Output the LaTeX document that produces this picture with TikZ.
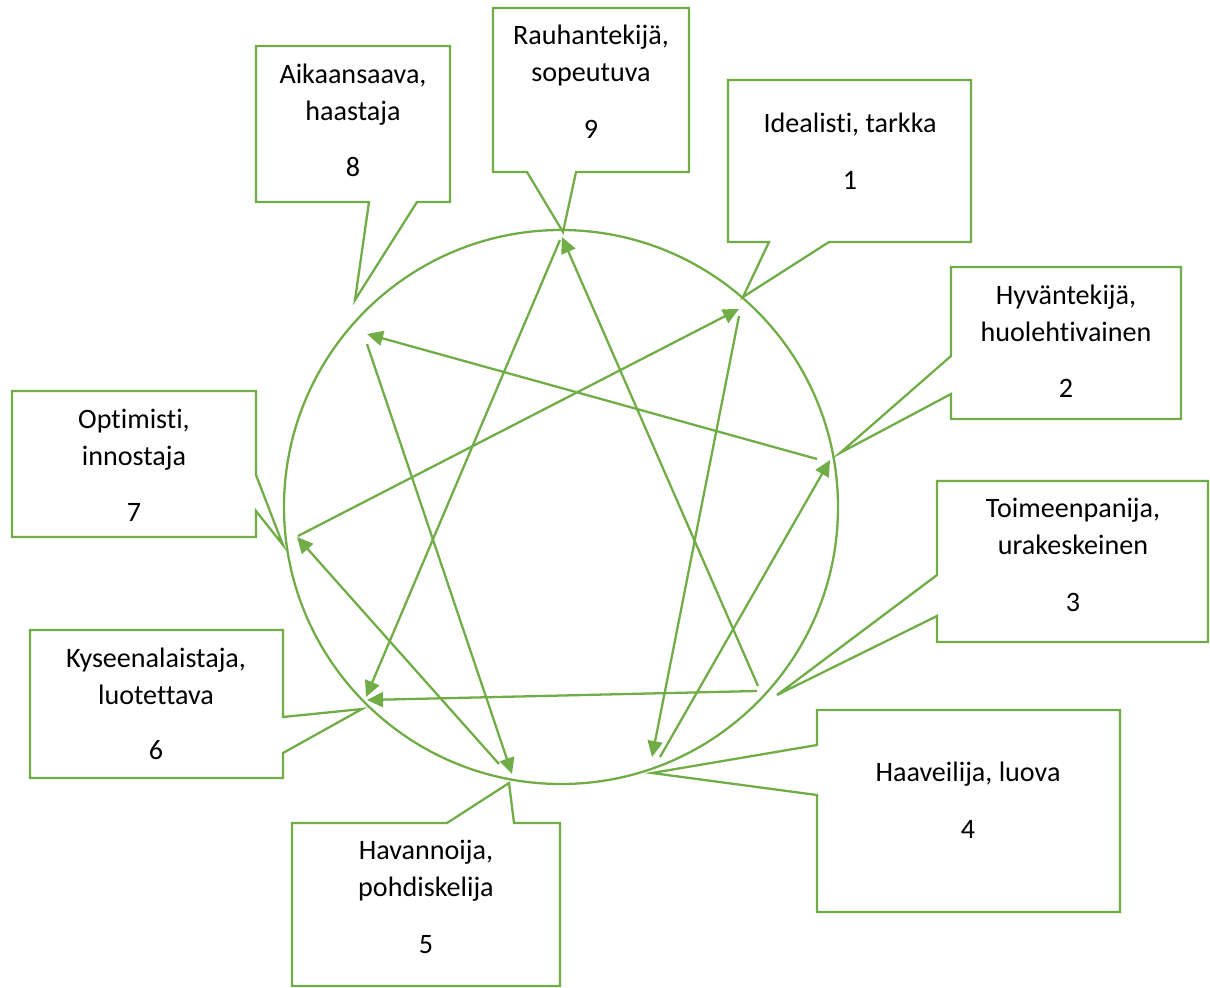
\documentclass[tikz,border=0pt]{standalone}
\usepackage{fontspec}
\setmainfont{Carlito}[Ligatures=NoCommon]
\usetikzlibrary{arrows.meta}
\definecolor{leafgreen}{RGB}{112,173,71}

\begin{document}
\begin{tikzpicture}[x=0.02cm, y=-0.02cm, line width=1.3pt,
	box/.style={draw=leafgreen, line join=miter},
	lbl/.style={font=\fontsize{16}{20.5}\selectfont, align=center, anchor=base, inner sep=0pt},
	link/.style={draw=leafgreen, -{Triangle[length=0.32cm, width=0.3cm]}}]
	\useasboundingbox (0,0) rectangle (1210,987);

	\draw[leafgreen] (561,507) circle[radius=277];

	% tips of the callouts
	\coordinate (c1) at (743,297);
	\coordinate (c2) at (840,453);
	\coordinate (c3) at (777,695);
	\coordinate (c4) at (652,773);
	\coordinate (c5) at (509,783);
	\coordinate (c6) at (362,709);
	\coordinate (c7) at (283,545);
	\coordinate (c8) at (355,300);
	\coordinate (c9) at (563,232);

	\draw[box] (493,8) -- (689,8) -- (689,172) -- (576,172) -- (c9) -- (527,172) -- (493,172) -- cycle;
	\draw[box] (256,46) -- (450,46) -- (450,202) -- (417,202) -- (c8) -- (369,202) -- (256,202) -- cycle;
	\draw[box] (728,80) -- (971,80) -- (971,242) -- (829,242) -- (c1) -- (769,242) -- (728,242) -- cycle;
	\draw[box] (951,267) -- (1181,267) -- (1181,419) -- (951,419) -- (951,394) -- (c2) -- (951,356) -- cycle;
	\draw[box] (937,481) -- (1208,481) -- (1208,642) -- (937,642) -- (937,616) -- (c3) -- (937,575) -- cycle;
	\draw[box] (817,710) -- (1120,710) -- (1120,912) -- (817,912) -- (817,795) -- (c4) -- (817,745) -- cycle;
	\draw[box] (292,823) -- (447,823) -- (c5) -- (514,823) -- (560,823) -- (560,986) -- (292,986) -- cycle;
	\draw[box] (30,630) -- (283,630) -- (283,717) -- (c6) -- (283,753) -- (283,778) -- (30,778) -- cycle;
	\draw[box] (12,391) -- (256,391) -- (256,475) -- (c7) -- (256,511) -- (256,537) -- (12,537) -- cycle;

	% base anchor sits on the last line
	\node[lbl] (t9) at (591,81) {Rauhantekijä,\\sopeutuva};
	\node[lbl] (n9) at (591,138) {9};
	\node[lbl] (t8) at (353,120) {Aikaansaava,\\haastaja};
	\node[lbl] (n8) at (353,176) {8};
	\node[lbl] (t1) at (850,132) {Idealisti, tarkka};
	\node[lbl] (n1) at (850,189) {1};
	\node[lbl] (t2) at (1066,341) {Hyväntekijä,\\huolehtivainen};
	\node[lbl] (n2) at (1066,397) {2};
	\node[lbl] (t3) at (1073,554) {Toimeenpanija,\\urakeskeinen};
	\node[lbl] (n3) at (1073,611) {3};
	\node[lbl] (t4) at (968,781) {Haaveilija, luova};
	\node[lbl] (n4) at (968,838) {4};
	\node[lbl] (t5) at (426,896) {Havannoija,\\pohdiskelija};
	\node[lbl] (n5) at (426,953) {5};
	\node[lbl] (t6) at (156,704) {Kyseenalaistaja,\\luotettava};
	\node[lbl] (n6) at (156,759) {6};
	\node[lbl] (t7) at (134,465) {Optimisti,\\innostaja};
	\node[lbl] (n7) at (134,521) {7};

	% ends of the lines inside the circle
	\coordinate (out1) at (739,316);
	\coordinate (in1) at (739,309);
	\coordinate (out2) at (817,459);
	\coordinate (in2) at (830,460);
	\coordinate (out3a) at (757,691);
	\coordinate (out3b) at (758,686);
	\coordinate (out4) at (660,757);
	\coordinate (in4) at (652,757);
	\coordinate (out5) at (499,764);
	\coordinate (in5) at (512,774);
	\coordinate (in6a) at (366,697);
	\coordinate (in6b) at (367,700);
	\coordinate (out7) at (298,536);
	\coordinate (in7) at (297,537);
	\coordinate (out8) at (367,344);
	\coordinate (in8) at (367,334);
	\coordinate (out9) at (560,240);
	\coordinate (in9) at (562,237);

	\draw[link] (out2) -- (in8);
	\draw[link] (out8) -- (in5);
	\draw[link] (out5) -- (in7);
	\draw[link] (out7) -- (in1);
	\draw[link] (out1) -- (in4);
	\draw[link] (out4) -- (in2);
	\draw[link] (out9) -- (in6a);
	\draw[link] (out3a) -- (in6b);
	\draw[link] (out3b) -- (in9);
\end{tikzpicture}
\end{document}
